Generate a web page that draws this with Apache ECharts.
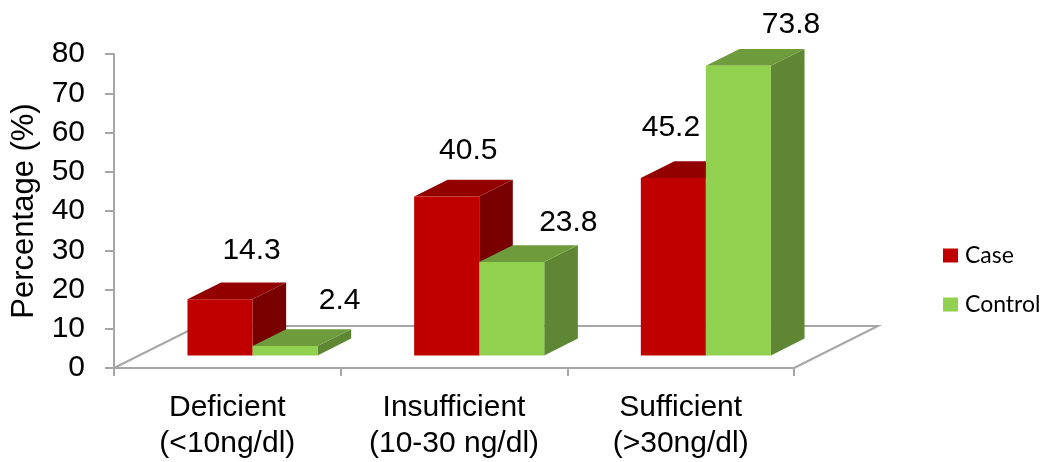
<!DOCTYPE html>
<html>
<head>
<meta charset="utf-8">
<script src="https://cdn.jsdelivr.net/npm/echarts/dist/echarts.min.js"></script>
<style>
html, body { margin: 0; padding: 0; background: #ffffff; }
#chart { width: 1042px; height: 462px; }
</style>
</head>
<body>
<div id="chart"></div>
<script>
// ---- data ----
const categories = ['Deficient\n(<10ng/dl)', 'Insufficient\n(10-30 ng/dl)', 'Sufficient\n(>30ng/dl)'];
const seriesNames = ['Case', 'Control'];
const caseValues = [14.3, 40.5, 45.2];
const controlValues = [2.4, 23.8, 73.8];
const yMin = 0, yMax = 80, yStep = 10;
const yTitle = 'Percentage (%)';

// ---- 3D look ----
const FLOOR_DX = 84, FLOOR_DY = -42;      // floor depth vector
const BAR_FRONT = 0.3, BAR_DEPTH = 0.4;   // block sits in the middle of the floor depth
const BAR_FRAC = 0.287;                   // block width as a share of a category band
const FONT = '"Liberation Sans", Arial, sans-serif';
const AXIS_GREY = '#a6a6a6';

const palettes = {
  Case:    { front: '#c00000', top: '#930000', side: '#780000' },
  Control: { front: '#92d050', top: '#6e9c3d', side: '#5e8633' }
};
// value-label placement relative to the top-back centre of each block
const labelShift = {
  Case:    [[-2, -32], [-12, -29], [-36, -33]],
  Control: [[21, -28], [23, -22], [19, -24]]
};

function blockRenderer(name, side) {
  const pal = palettes[name];
  const shifts = labelShift[name];
  return function (params, api) {
    const idx = api.value(0);
    const val = api.value(1);
    const base = api.coord([idx, 0]);
    const topPt = api.coord([idx, val]);
    const band = api.size([1, 0])[0];
    const w = band * BAR_FRAC;
    const fx = FLOOR_DX * BAR_FRONT, fy = FLOOR_DY * BAR_FRONT;
    const dx = FLOOR_DX * BAR_DEPTH, dy = FLOOR_DY * BAR_DEPTH;
    const cx = base[0] + fx;
    const x0 = side === 0 ? cx - w : cx;
    const x1 = x0 + w;
    const yb = base[1] + fy;
    const yt = topPt[1] + fy;
    const sh = shifts[params.dataIndex];
    return {
      type: 'group',
      children: [
        { type: 'polygon', shape: { points: [[x1, yt], [x1 + dx, yt + dy], [x1 + dx, yb + dy], [x1, yb]] },
          style: { fill: pal.side } },
        { type: 'polygon', shape: { points: [[x0, yt], [x1, yt], [x1 + dx, yt + dy], [x0 + dx, yt + dy]] },
          style: { fill: pal.top } },
        { type: 'rect', shape: { x: x0, y: yt, width: w, height: yb - yt },
          style: { fill: pal.front } },
        { type: 'text', z2: 100,
          style: { text: String(val), x: x0 + w / 2 + dx + sh[0], y: yt + dy + sh[1],
                   align: 'center', verticalAlign: 'middle',
                   font: '30px ' + FONT, fill: '#000000' } }
      ]
    };
  };
}

function floorRenderer(params, api) {
  const band = api.size([1, 0])[0];
  const left = api.coord([0, 0]);
  const right = api.coord([categories.length - 1, 0]);
  const xl = left[0] - band / 2, xr = right[0] + band / 2, y0 = left[1];
  return {
    type: 'polyline',
    shape: { points: [[xl, y0], [xl + FLOOR_DX, y0 + FLOOR_DY], [xr + FLOOR_DX, y0 + FLOOR_DY], [xr, y0]] },
    style: { stroke: AXIS_GREY, lineWidth: 2, fill: null }
  };
}

const chart = echarts.init(document.getElementById('chart'), null, { renderer: 'canvas' });
chart.setOption({
  animation: false,
  backgroundColor: '#ffffff',
  grid: { left: 114, right: 248, top: 54, bottom: 93 },
  legend: {
    orient: 'vertical',
    left: 938, top: 239,
    itemWidth: 15, itemHeight: 14, itemGap: 26,
    data: seriesNames.map(n => ({ name: n, icon: 'rect' })),
    textStyle: { fontFamily: 'Lato, "Open Sans", sans-serif', fontSize: 23, color: '#000', lineHeight: 22, padding: [0, 0, 0, 2] }
  },
  xAxis: {
    type: 'category',
    data: categories,
    axisLine: { show: true, lineStyle: { color: AXIS_GREY, width: 2 } },
    axisTick: { show: true, alignWithLabel: false, length: 8, lineStyle: { color: AXIS_GREY, width: 2 } },
    axisLabel: { fontFamily: FONT, fontSize: 30, lineHeight: 36, color: '#000', margin: 22, interval: 0 },
    splitLine: { show: false }
  },
  yAxis: {
    type: 'value',
    min: yMin, max: yMax, interval: yStep,
    name: yTitle,
    nameLocation: 'middle',
    nameGap: 74,
    nameTextStyle: { fontFamily: FONT, fontSize: 31, color: '#000' },
    axisLine: { show: true, lineStyle: { color: AXIS_GREY, width: 2 } },
    axisTick: { show: true, length: 9, lineStyle: { color: AXIS_GREY, width: 2 } },
    axisLabel: { fontFamily: FONT, fontSize: 30, color: '#000', margin: 29 },
    splitLine: { show: false }
  },
  series: [
    { type: 'custom', name: 'floor', z: 1, silent: true, renderItem: floorRenderer, data: [[0, 0]] },
    { type: 'custom', name: seriesNames[0], z: 2, itemStyle: { color: palettes.Case.front },
      renderItem: blockRenderer('Case', 0),
      data: caseValues.map((v, i) => [i, v]) },
    { type: 'custom', name: seriesNames[1], z: 2, itemStyle: { color: palettes.Control.front },
      renderItem: blockRenderer('Control', 1),
      data: controlValues.map((v, i) => [i, v]) }
  ]
});
</script>
</body>
</html>
